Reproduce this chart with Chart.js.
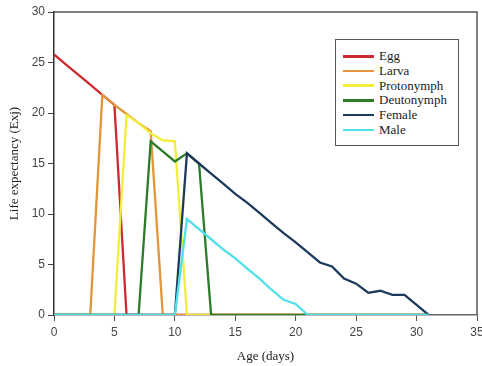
<!DOCTYPE html>
<html>
<head>
<meta charset="utf-8">
<script src="https://cdn.jsdelivr.net/npm/chart.js@4"></script>
<style>
  body { margin: 0; background: #fff; }
  #wrap { position: relative; width: 482px; height: 366px; }
  #legenda {
    position: absolute; left: 335px; top: 39px; width: 124px; height: 107px;
    border: 1.5px solid #555; background: #fff; box-sizing: border-box;
    font-family: "Liberation Serif", "DejaVu Serif", serif; font-size: 13px; color: #222;
    padding-top: 9px;
  }
  .item { display: flex; align-items: center; height: 14.7px; }
  .linha { width: 31px; height: 2.5px; margin-left: 7px; margin-right: 5px; }
</style>
</head>
<body>
<div id="wrap">
  <canvas id="grafico" width="482" height="366"></canvas>
  <div id="legenda"></div>
</div>
<script>
// idade em dias (0..31)
const idades = [0,1,2,3,4,5,6,7,8,9,10,11,12,13,14,15,16,17,18,19,20,21,22,23,24,25,26,27,28,29,30,31];

const ovo =        [25.8,24.8,23.8,22.8,21.8,20.8,0,0,0,0,0,0,0,0,0,0,0,0,0,0,0,0,0,0,0,0,0,0,0,0,0,0];
const larva =      [0,0,0,0,21.8,20.8,19.9,19.0,18.2,0,0,0,0,0,0,0,0,0,0,0,0,0,0,0,0,0,0,0,0,0,0,0];
const protoninfa = [0,0,0,0,0,0,19.8,19.0,18.0,17.3,17.2,0,0,0,0,0,0,0,0,0,0,0,0,0,0,0,0,0,0,0,0,0];
const deutoninfa = [0,0,0,0,0,0,0,0,17.2,16.2,15.2,16.0,15.0,0,0,0,0,0,0,0,0,0,0,0,0,0,0,0,0,0,0,0];
const femea =      [0,0,0,0,0,0,0,0,0,0,0,16.0,15.0,14.0,13.0,12.0,11.1,10.1,9.1,8.1,7.2,6.2,5.2,4.8,3.6,3.1,2.2,2.4,2.0,2.0,1.0,0];
const macho =      [0,0,0,0,0,0,0,0,0,0,0,9.5,8.5,7.5,6.5,5.6,4.6,3.6,2.5,1.5,1.1,0,0,0,0,0,0,0,0,0,0,0];

const nomesSeries = ['Egg', 'Larva', 'Protonymph', 'Deutonymph', 'Female', 'Male'];
const cores = ['#cc2a2e', '#e2953a', '#f2ee3c', '#2b7b2b', '#1d3a5c', '#4fe0e8'];
const valores = [ovo, larva, protoninfa, deutoninfa, femea, macho];

const ticksX = [0, 5, 10, 15, 20, 25, 30, 35];
const ticksY = [0, 5, 10, 15, 20, 25, 30];

const datasets = valores.map((serie, i) => ({
    label: nomesSeries[i],
    data: serie.map((v, j) => ({ x: idades[j], y: v })),
    borderColor: cores[i],
    backgroundColor: cores[i],
    borderWidth: 2.3,
    pointRadius: 0,
    tension: 0,
    fill: false,
    order: valores.length - i // macho desenhado por cima
}));

// moldura de cima e da direita
const moldura = {
    id: 'moldura',
    afterDatasetsDraw(chart) {
        const { ctx, chartArea: a } = chart;
        ctx.save();
        ctx.strokeStyle = '#555';
        ctx.lineWidth = 1.5;
        ctx.beginPath();
        ctx.moveTo(a.left, a.top);
        ctx.lineTo(a.right, a.top);
        ctx.lineTo(a.right, a.bottom);
        ctx.stroke();
        ctx.restore();
    }
};

const fonteTicks = { family: '"Liberation Sans", Arial, sans-serif', size: 12 };
const fonteTitulo = { family: '"Liberation Serif", "Times New Roman", serif', size: 13 };

new Chart(document.getElementById('grafico'), {
    type: 'line',
    data: { datasets: datasets },
    options: {
        responsive: false,
        animation: false,
        layout: { padding: { top: 12, right: 5, left: 0, bottom: 0 } },
        plugins: { legend: { display: false }, tooltip: { enabled: false } },
        scales: {
            x: {
                type: 'linear',
                min: 0, max: 35,
                afterBuildTicks: s => { s.ticks = ticksX.map(v => ({ value: v })); },
                afterFit: s => { s.height = 51; s.paddingLeft = 0; s.paddingRight = 0; },
                ticks: { font: fonteTicks, color: '#444', padding: 4, maxRotation: 0 },
                grid: { display: true, drawOnChartArea: false, tickLength: 6, color: '#555' },
                border: { color: '#666', width: 1.5 },
                title: { display: true, text: 'Age (days)', font: fonteTitulo, color: '#222', padding: { top: 0, bottom: 2 } }
            },
            y: {
                type: 'linear',
                min: 0, max: 30,
                afterBuildTicks: s => { s.ticks = ticksY.map(v => ({ value: v })); },
                afterFit: s => { s.width = 54; s.paddingTop = 0; s.paddingBottom = 0; },
                ticks: { font: fonteTicks, color: '#444', padding: 3 },
                grid: { display: true, drawOnChartArea: false, tickLength: 6, color: '#444' },
                border: { color: '#333', width: 1.5 },
                title: { display: true, text: 'Life expectancy (Exj)', font: fonteTitulo, color: '#222', padding: { top: 7, bottom: 0 } }
            }
        }
    },
    plugins: [moldura]
});

// legenda em HTML dentro da área do gráfico
const legenda = document.getElementById('legenda');
legenda.innerHTML = nomesSeries.map((nome, i) =>
    `<div class="item"><span class="linha" style="background:${cores[i]}"></span><span>${nome}</span></div>`
).join('');
</script>
</body>
</html>
